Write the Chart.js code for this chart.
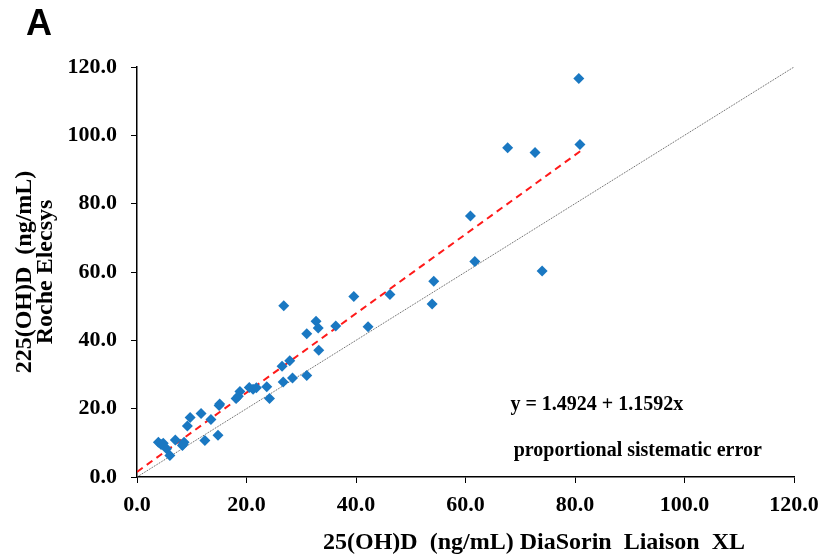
<!DOCTYPE html>
<html>
<head>
<meta charset="utf-8">
<script src="https://cdn.jsdelivr.net/npm/chart.js@4/dist/chart.umd.min.js"></script>
<style>
  html, body { margin: 0; padding: 0; background: #fff; }
  #wrap { width: 824px; height: 557px; }
</style>
</head>
<body>
<div id="wrap"><canvas id="chart" width="824" height="557"></canvas></div>
<script>
// DiaSorin Liaison XL (x) vs Roche Elecsys (y), ng/mL
const liaison = [3.9, 4.4, 4.8, 5.4, 6.0, 7.0, 8.3, 8.6, 8.4, 9.2, 9.7, 11.7, 12.4, 13.5, 14.8, 15.0, 15.1,
  18.1, 18.5, 18.8, 20.5, 21.2, 21.8, 23.7, 24.2, 26.5, 26.7, 27.9, 28.4, 26.8, 31.0, 31.0, 32.7, 33.1,
  33.2, 36.3, 42.2, 39.6, 46.2, 54.2, 53.9, 61.7, 60.9, 67.7, 72.7, 80.9, 80.7, 74.0];
const elecsys = [10.2, 9.5, 9.9, 8.3, 6.3, 10.8, 9.2, 10.2, 9.6, 14.9, 17.4, 18.6, 10.7, 16.8, 12.2, 20.9, 21.4,
  23.0, 23.6, 25.0, 26.2, 25.7, 26.1, 26.4, 23.0, 32.4, 27.8, 34.0, 29.0, 50.1, 41.9, 29.7, 45.6, 43.6,
  37.1, 44.2, 44.0, 52.8, 53.4, 57.3, 50.6, 63.1, 76.4, 96.4, 95.0, 97.3, 116.6, 60.3];

// regression line and identity line
const fitIntercept = 1.4924;
const fitSlope = 1.1592;
const fitRange = [0, 81];
const identityRange = [0, 120];
const equationText = "y = 1.4924 + 1.1592x";
const noteText = "proportional sistematic error";
const xTitle = "25(OH)D  (ng/mL) DiaSorin  Liaison  XL";
const yTitleLines = ["225(OH)D  (ng/mL)", "Roche Elecsys"];

const yTicks = [0, 20, 40, 60, 80, 100, 120];

const points = liaison.map((x, i) => ({ x: x, y: elecsys[i] }));
const fitLine = fitRange.map(x => ({ x: x, y: fitIntercept + fitSlope * x }));
const identity = identityRange.map(x => ({ x: x, y: x }));

const serif = "'Liberation Serif', 'Times New Roman', serif";

// extra text: panel letter, equation, note, axis titles
const annotations = {
  id: "annotations",
  afterDraw(chart) {
    const { ctx, scales, chartArea } = chart;
    ctx.save();
    ctx.fillStyle = "#000";
    ctx.textBaseline = "middle";
    ctx.textAlign = "left";
    ctx.font = "bold 36px 'Liberation Sans', Arial, sans-serif";
    ctx.fillText("A", 26, 25);

    ctx.font = "bold 20px " + serif;
    ctx.fillText(equationText, scales.x.getPixelForValue(68.2), scales.y.getPixelForValue(21.0));
    ctx.fillText(noteText, scales.x.getPixelForValue(68.8), scales.y.getPixelForValue(7.6));

    ctx.textAlign = "center";
    ctx.font = "bold 24px " + serif;
    ctx.fillText(xTitle, 534, 543);

    const cy = (chartArea.top + chartArea.bottom) / 2;
    ctx.translate(25, cy);
    ctx.rotate(-Math.PI / 2);
    ctx.fillText(yTitleLines[0], 0, 0);
    ctx.fillText(yTitleLines[1], 0, 21);
    ctx.restore();
  }
};

new Chart(document.getElementById("chart"), {
  type: "scatter",
  data: {
    datasets: [
      {
        label: "samples",
        data: points,
        pointStyle: "rectRot",
        pointRadius: 5.5,
        backgroundColor: "#1a78c2",
        borderColor: "#1a78c2",
        borderWidth: 0
      },
      {
        label: "fit",
        data: fitLine,
        showLine: true,
        pointRadius: 0,
        borderColor: "#ff1a1a",
        borderWidth: 2,
        borderDash: [7, 5]
      },
      {
        label: "identity",
        data: identity,
        showLine: true,
        pointRadius: 0,
        borderColor: "#555",
        borderWidth: 1,
        borderDash: [1, 1]
      }
    ]
  },
  options: {
    responsive: false,
    animation: false,
    layout: { padding: { left: 0, right: 30, top: 67, bottom: 0 } },
    plugins: {
      legend: { display: false },
      tooltip: { enabled: false }
    },
    scales: {
      x: {
        type: "linear",
        min: 0,
        max: 120,
        afterFit(axis) {
          axis.height = 80;
          axis.paddingRight = 0;
        },
        ticks: {
          stepSize: 20,
          color: "#000",
          font: { family: serif, size: 22, weight: "bold" },
          padding: 9,
          callback: v => v.toFixed(1)
        },
        grid: { drawOnChartArea: false, color: "#000", tickLength: 6, tickColor: "#000" },
        border: { color: "#000", width: 1.5 }
      },
      y: {
        type: "linear",
        min: 0,
        max: 120,
        afterBuildTicks(axis) { axis.ticks = yTicks.map(v => ({ value: v })); },
        ticks: {
          color: "#000",
          font: { family: serif, size: 22, weight: "bold" },
          padding: 14,
          callback: v => v.toFixed(1)
        },
        grid: { drawOnChartArea: false, color: "#000", tickLength: 6, tickColor: "#000" },
        border: { color: "#000", width: 1.5 },
        afterFit(axis) { axis.width = 137; }
      }
    }
  },
  plugins: [annotations]
});
</script>
</body>
</html>
